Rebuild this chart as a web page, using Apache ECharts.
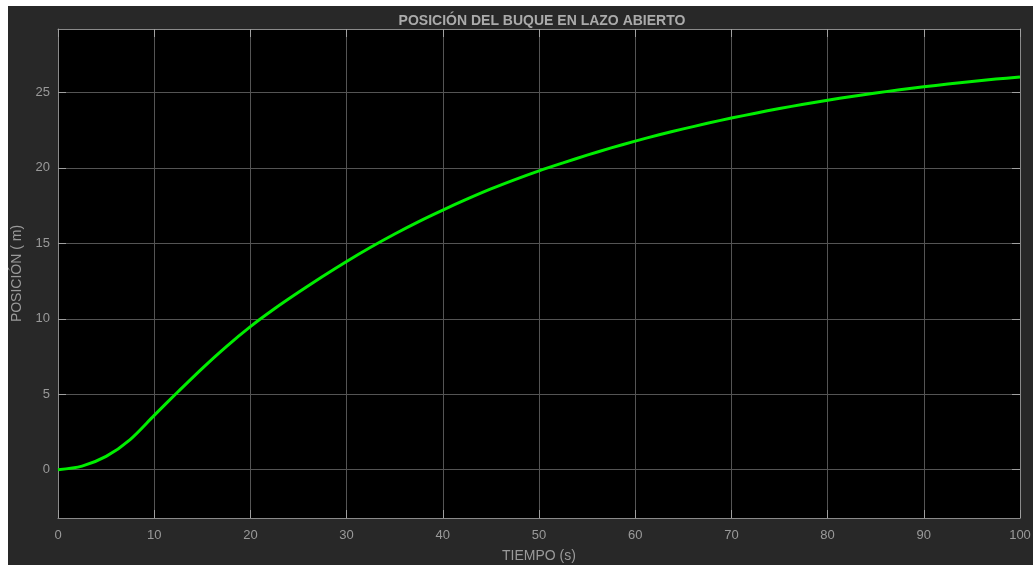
<!DOCTYPE html>
<html>
<head>
<meta charset="utf-8">
<script src="https://cdn.jsdelivr.net/npm/echarts@6/dist/echarts.min.js"></script>
<style>
  html, body { margin: 0; padding: 0; background: #ffffff; }
  #chart { position: absolute; left: 8px; top: 6px; width: 1025px; height: 559px; background: #282828; }
</style>
</head>
<body>
<div id="chart"></div>
<script>
// Data
const timeValues = [0, 2.5, 5, 7.5, 10, 12.5, 15, 17.5, 20, 22.5, 25, 27.5, 30, 32.5, 35, 37.5, 40, 42.5, 45, 47.5, 50,
  52.5, 55, 57.5, 60, 62.5, 65, 67.5, 70, 72.5, 75, 77.5, 80, 82.5, 85, 87.5, 90, 92.5, 95, 97.5, 100];
const positionValues = [0, 0.24, 0.88, 2.0, 3.6, 5.18, 6.72, 8.16, 9.48, 10.66, 11.75, 12.8, 13.8, 14.74, 15.62, 16.44, 17.2, 17.92, 18.6, 19.22, 19.8,
  20.33, 20.84, 21.32, 21.77, 22.19, 22.58, 22.95, 23.3, 23.62, 23.93, 24.21, 24.48, 24.73, 24.96, 25.17, 25.37, 25.55, 25.72, 25.88, 26.02];
const xTickValues = [0, 10, 20, 30, 40, 50, 60, 70, 80, 90, 100];
const yTickValues = [0, 5, 10, 15, 20, 25];
const titleText = 'POSICIÓN DEL BUQUE EN LAZO ABIERTO';
const xName = 'TIEMPO (s)';
const yName = 'POSICIÓN ( m)';

const Y_MIN = -3.2, Y_MAX = 29.2;
const gridColor = '#545454';
const boxColor = '#8a8a8a';
const tickColor = '#a0a0a0';
const labelColor = '#9a9a9a';
const fontFam = 'Liberation Sans, Arial, Helvetica, sans-serif';

const chart = echarts.init(document.getElementById('chart'), null, { renderer: 'canvas' });

const seriesData = timeValues.map((t, i) => [t, positionValues[i]]);

const commonX = {
  type: 'value', min: 0, max: 100, interval: 10,
  axisLine: { show: true, onZero: false, lineStyle: { color: boxColor, width: 1 } },
  axisTick: { show: true, inside: true, length: 8, lineStyle: { color: tickColor, width: 1 } }
};
const commonY = {
  type: 'value', min: Y_MIN, max: Y_MAX,
  axisLine: { show: true, onZero: false, lineStyle: { color: boxColor, width: 1 } },
  axisTick: { show: true, inside: true, length: 8, customValues: yTickValues, lineStyle: { color: tickColor, width: 1 } }
};

chart.setOption({
  backgroundColor: '#282828',
  animation: false,
  title: {
    text: titleText,
    left: 529, top: 3,
    textAlign: 'center',
    textStyle: { color: '#ababab', fontSize: 14, fontWeight: 'bold', fontFamily: fontFam }
  },
  grid: { left: 50, top: 23, width: 962, height: 489, backgroundColor: '#000000', show: true, borderWidth: 0, containLabel: false, outerBoundsMode: 'none' },
  xAxis: [
    Object.assign({}, commonX, {
      position: 'bottom',
      name: xName, nameLocation: 'middle', nameGap: 31,
      nameTextStyle: { color: labelColor, fontSize: 14, fontFamily: fontFam },
      axisLabel: { show: true, color: labelColor, fontSize: 13, margin: 11, fontFamily: fontFam, customValues: xTickValues },
      splitLine: { show: true, lineStyle: { color: gridColor, width: 1 } }
    }),
    Object.assign({}, commonX, {
      position: 'top',
      axisLabel: { show: false },
      splitLine: { show: false }
    })
  ],
  yAxis: [
    Object.assign({}, commonY, {
      position: 'left',
      name: yName, nameLocation: 'middle', nameGap: 32, nameRotate: 90,
      nameTextStyle: { color: labelColor, fontSize: 14, fontFamily: fontFam },
      axisLabel: { show: true, color: labelColor, fontSize: 13, margin: 8, fontFamily: fontFam, customValues: yTickValues },
      splitLine: { show: true, lineStyle: { color: gridColor, width: 1 } }
    }),
    Object.assign({}, commonY, {
      position: 'right',
      axisLabel: { show: false },
      splitLine: { show: false }
    })
  ],
  series: [{
    type: 'line',
    xAxisIndex: 0, yAxisIndex: 0,
    data: seriesData,
    smooth: 0.3,
    showSymbol: false,
    symbol: 'none',
    lineStyle: { color: '#00ee00', width: 3 },
    z: 5
  }]
});
</script>
</body>
</html>
